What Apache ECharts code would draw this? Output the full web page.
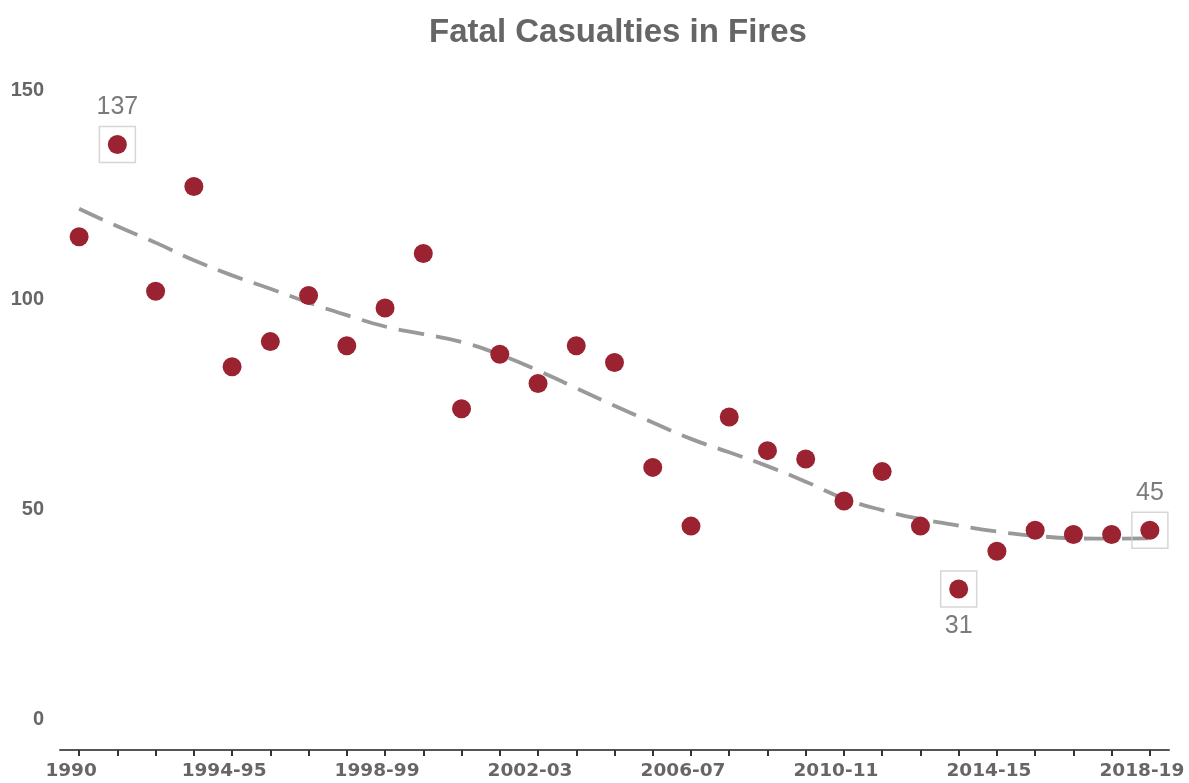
<!DOCTYPE html>
<html>
<head>
<meta charset="utf-8">
<script src="https://cdn.jsdelivr.net/npm/echarts@6/dist/echarts.min.js"></script>
<style>
  html, body { margin: 0; padding: 0; background: #fff; }
  #chart { width: 1189px; height: 783px; }
</style>
</head>
<body>
<div id="chart"></div>
<script>
// fiscal years, 1990 first
const years = [
  '1990', '1991-92', '1992-93', '1993-94', '1994-95', '1995-96', '1996-97', '1997-98',
  '1998-99', '1999-00', '2000-01', '2001-02', '2002-03', '2003-04', '2004-05', '2005-06',
  '2006-07', '2007-08', '2008-09', '2009-10', '2010-11', '2011-12', '2012-13', '2013-14',
  '2014-15', '2015-16', '2016-17', '2017-18', '2018-19'
]
const deaths = [
  115, 137, 102, 127, 84, 90, 101, 89,
  98, 111, 74, 87, 80, 89, 85, 60,
  46, 72, 64, 62, 52, 59, 46, 31,
  40, 45, 44, 44, 45
]
// smoothed trend
const trend = [
  121.7, 117.5, 113.6, 109.4, 105.8, 102.6, 99.3, 96.3,
  93.6, 91.8, 89.9, 86.9, 83.1, 78.9, 74.7, 70.7,
  66.8, 63.6, 60.3, 56.6, 52.6, 49.8, 47.7, 46.1,
  44.7, 43.7, 43.1, 43.0, 43.1
]
// points with a box + value label (max, min, latest)
const highlights = [1, 23, 28]
const highlightPos = ['top', 'bottom', 'top']
const yTicks = [0, 50, 100, 150]

const grey = '#666'
const red = '#9b2231'

let boxes = highlights.map((i, k) => ({
  value: [years[i], deaths[i]],
  label: { position: highlightPos[k] }
}))

let option = {
  animation: false,
  title: {
    text: 'Fatal Casualties in Fires',
    left: 613,
    top: 11,
    textAlign: 'center',
    textStyle: {
      fontFamily: 'Liberation Sans',
      fontSize: 33,
      fontWeight: 'bold',
      color: grey
    }
  },
  grid: {
    left: 60,
    right: 20,
    top: 90,
    bottom: 64,
    outerBoundsMode: 'none'
  },
  xAxis: {
    type: 'category',
    data: years,
    offset: 31,
    axisLine: { onZero: false, lineStyle: { color: '#555', width: 2 } },
    axisTick: {
      show: true,
      alignWithLabel: true,
      interval: 0,
      length: 6,
      lineStyle: { color: '#333', width: 2 }
    },
    axisLabel: {
      interval: 3,
      margin: 12,
      padding: [0, 16, 0, 0],
      fontFamily: 'DejaVu Sans',
      fontSize: 18.5,
      fontWeight: 'bold',
      color: grey
    },
    splitLine: { show: false }
  },
  yAxis: {
    type: 'value',
    min: yTicks[0],
    max: yTicks[yTicks.length - 1],
    interval: 50,
    axisLine: { show: false },
    axisTick: { show: false },
    splitLine: { show: false },
    axisLabel: {
      margin: 16,
      fontFamily: 'Liberation Sans',
      fontSize: 20,
      fontWeight: 'bold',
      color: grey
    }
  },
  series: [
    {
      name: 'trend',
      type: 'line',
      data: trend,
      smooth: true,
      symbol: 'none',
      z: 1,
      lineStyle: { color: '#999', width: 3.8, type: [26, 12] }
    },
    {
      name: 'box',
      type: 'scatter',
      data: boxes,
      symbol: 'rect',
      symbolSize: 36,
      z: 2,
      itemStyle: { color: 'rgba(0,0,0,0)', borderColor: '#ccc', borderWidth: 1.5 },
      label: {
        show: true,
        distance: 6,
        formatter: p => p.value[1],
        fontFamily: 'Liberation Sans',
        fontSize: 25,
        color: '#5a5a5a'
      },
      emphasis: { disabled: true }
    },
    {
      name: 'deaths',
      type: 'scatter',
      data: deaths,
      symbol: 'circle',
      symbolSize: 19,
      z: 3,
      itemStyle: { color: red, opacity: 1 }
    }
  ]
}

let chart = echarts.init(document.getElementById('chart'))
chart.setOption(option)
</script>
</body>
</html>
